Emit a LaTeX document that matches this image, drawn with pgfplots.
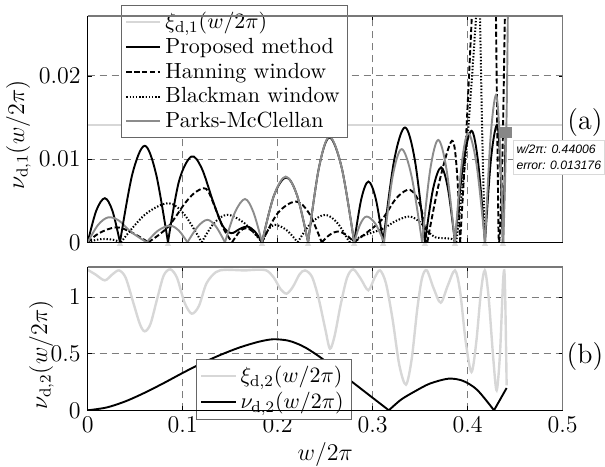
\documentclass[border=0pt]{standalone}
\usepackage{fontspec}
\usepackage{pgfplots}
\pgfplotsset{compat=1.18}
\newfontfamily\tipfont{Liberation Sans}
\definecolor{lgray}{RGB}{215,215,215}
\definecolor{mgray}{RGB}{140,140,140}
\definecolor{tgray}{RGB}{220,220,220}
\definecolor{gridc}{RGB}{125,125,125}
\definecolor{dtgray}{RGB}{135,135,135}
\definecolor{framec}{RGB}{120,120,120}
\pgfplotsset{
  myaxis/.style={
    scale only axis, width=237.5pt, xmin=0, xmax=0.5,
    xtick={0,0.1,0.2,0.3,0.4,0.5},
    grid=major, grid style={gridc, line width=0.45pt, dash pattern=on 3.5pt off 2.5pt},
    axis line style={draw=none},
    tick align=inside, major tick length=2pt, tick style={black, line width=0.4pt},
    tick label style={font=\fontsize{12}{14}\selectfont},
    label style={font=\fontsize{12}{14}\selectfont},
    legend cell align=left,
    scaled y ticks=false, scaled x ticks=false,
  },
  prop/.style={black, line width=0.95pt, smooth, tension=0.55},
  hann/.style={black, line width=0.95pt, dash pattern=on 2.6pt off 1.3pt, smooth, tension=0.55},
  bman/.style={black, line width=1pt, dash pattern=on 0.7pt off 0.9pt, smooth, tension=0.55},
  parks/.style={mgray, line width=0.95pt, smooth, tension=0.55},
}
\begin{document}
\begin{tikzpicture}
% zero markers just below the upper axis
\begin{axis}[scale only axis, width=237.5pt, height=5pt, at={(0,84pt)}, anchor=north west,
  xmin=0, xmax=0.5, ymin=-10, ymax=0, hide axis, clip marker paths=true]
\addplot[only marks, mark=triangle*, mark size=1.45pt, color=tgray] coordinates {
(0.034,-1.8) (0.0845,-1.8) (0.1835,-1.8) (0.232,-1.8) (0.2805,-1.8) (0.311,-1.8)
(0.355,-1.8) (0.3866,-1.8) (0.4182,-1.8) (0.437,-1.8)};
\end{axis}

\begin{axis}[myaxis, name=top, at={(0,84pt)}, anchor=south west, height=113.15pt,
  ymin=0, ymax=0.0272, ytick={0,0.01,0.02}, yticklabels={$0$,$0.01$,$0.02$},
  xticklabels={},
  legend style={at={(rel axis cs:0.070,1.0486)}, anchor=north west,
    font=\fontsize{10.95}{12}\selectfont, draw=black!60, fill=white,
    inner xsep=2pt, inner ysep=1.5pt, row sep=-0.8pt},
]
\addplot[lgray, line width=1pt] coordinates {(0,0.0141) (0.5,0.0141)};
\addlegendentry{$\xi_{\mathrm{d},1}(w/2\pi)$}
% Proposed method
\addplot[prop] coordinates {(0,0) (0.009,0.0038) (0.018,0.0053) (0.026,0.0038) (0.034,0)};
\addlegendentry{Proposed method}
% Hanning
\addplot[hann] coordinates {(0,0) (0.012,0.0011) (0.03,0.0018) (0.046,0.0012) (0.0638,0)};
\addlegendentry{Hanning window}
% Blackman
\addplot[bman] coordinates {(0,0) (0.009,0.0003) (0.018,0.0004) (0.027,0.0003) (0.035,0)};
\addlegendentry{Blackman window}
% Parks-McClellan
\addplot[parks] coordinates {(0,0) (0.011,0.0021) (0.0217,0.0030) (0.033,0.0026) (0.045,0.0013) (0.062,0)};
\addlegendentry{Parks-McClellan}

% remaining lobes: Proposed method
\addplot[prop, forget plot] coordinates {(0.034,0) (0.047,0.0082) (0.060,0.0116) (0.072,0.0082) (0.0845,0)};
\addplot[prop, forget plot] coordinates {(0.0845,0) (0.096,0.0073) (0.109,0.0103) (0.12,0.0089) (0.132,0.0049) (0.142,0.0020) (0.151,0.0011) (0.160,0.0016) (0.168,0.0019) (0.176,0.0013) (0.1835,0)};
\addplot[prop, forget plot] coordinates {(0.1835,0) (0.196,0.0056) (0.209,0.0078) (0.2205,0.0056) (0.232,0)};
\addplot[prop, forget plot] coordinates {(0.232,0) (0.2433,0.0089) (0.2545,0.0126) (0.2675,0.0089) (0.2805,0)};
\addplot[prop, forget plot] coordinates {(0.2805,0) (0.288,0.0052) (0.2955,0.0073) (0.3033,0.0052) (0.311,0)};
\addplot[prop, forget plot] coordinates {(0.311,0) (0.3225,0.0098) (0.334,0.0138) (0.3445,0.0098) (0.355,0)};
\addplot[prop, forget plot] coordinates {(0.355,0) (0.3635,0.0064) (0.372,0.0090) (0.3793,0.0064) (0.3866,0)};
\addplot[prop, forget plot] coordinates {(0.3866,0) (0.3953,0.0095) (0.404,0.0134) (0.4111,0.0095) (0.4182,0)};
\addplot[prop, forget plot] coordinates {(0.4182,0) (0.4245,0.0100) (0.4308,0.0141) (0.4341,0.0100) (0.437,0)};
\addplot[prop, forget plot] coordinates {(0.437,0) (0.4385,0.006) (0.44006,0.013176)};

% Hanning
\addplot[hann, forget plot] coordinates {(0.0638,0) (0.075,0.0009) (0.085,0.0019) (0.094,0.0033) (0.1024,0.0047) (0.112,0.0059) (0.122,0.0065) (0.127,0.0061) (0.133,0.0045) (0.1427,0.0017) (0.152,0)};
\addplot[hann, forget plot] coordinates {(0.152,0) (0.16,0.0013) (0.167,0.0017) (0.175,0.0012) (0.1835,0)};
\addplot[hann, forget plot] coordinates {(0.1835,0) (0.20,0.0035) (0.219,0.0049) (0.233,0.0035) (0.2463,0)};
\addplot[hann, forget plot] coordinates {(0.2463,0) (0.2547,0.0009) (0.263,0.0013) (0.272,0.0009) (0.2805,0)};
\addplot[hann, forget plot] coordinates {(0.2805,0) (0.293,0.0011) (0.3095,0.0027) (0.3235,0.0051) (0.333,0.0061) (0.3393,0.0063) (0.346,0.0055) (0.3516,0.0038) (0.3575,0)};
\addplot[hann, forget plot] coordinates {(0.3575,0) (0.37,0.0072) (0.3835,0.0122) (0.389,0.0080) (0.392,0)};
\addplot[hann, forget plot] coordinates {(0.392,0) (0.398,0.012) (0.4055,0.03)};
\addplot[hann, forget plot] coordinates {(0.4295,0.03) (0.4315,0.01) (0.433,0) (0.4365,0.01) (0.4395,0.03)};

% Blackman
\addplot[bman, forget plot] coordinates {(0.035,0) (0.06,0.0033) (0.0849,0.0047) (0.102,0.0033) (0.12,0)};
\addplot[bman, forget plot] coordinates {(0.12,0) (0.133,0.0023) (0.147,0.0033) (0.165,0.0023) (0.1835,0)};
\addplot[bman, forget plot] coordinates {(0.1835,0) (0.19,0.0015) (0.197,0.0021) (0.209,0.0015) (0.221,0)};
\addplot[bman, forget plot] coordinates {(0.221,0) (0.235,0.0023) (0.25,0.0033) (0.263,0.0023) (0.2755,0)};
\addplot[bman, forget plot] coordinates {(0.2755,0) (0.29,0.0008) (0.31,0.0016) (0.325,0.0026) (0.339,0.0031) (0.35,0.0024) (0.358,0.0013) (0.366,0.0006) (0.375,0.0005) (0.383,0.0004) (0.388,0)};
\addplot[bman, forget plot] coordinates {(0.388,0) (0.40,0.013) (0.4105,0.03)};
\addplot[bman, forget plot] coordinates {(0.4125,0.03) (0.4155,0.012) (0.4182,0)};

% Parks-McClellan
\addplot[parks, forget plot] coordinates {(0.062,0) (0.074,0.0014) (0.0866,0.0020) (0.096,0.0014) (0.105,0)};
\addplot[parks, forget plot] coordinates {(0.105,0) (0.116,0.0019) (0.126,0.0027) (0.135,0.0019) (0.1445,0)};
\addplot[parks, forget plot] coordinates {(0.1445,0) (0.155,0.0036) (0.1656,0.0052) (0.1745,0.0036) (0.1835,0)};
\addplot[parks, forget plot] coordinates {(0.1835,0) (0.196,0.0056) (0.2085,0.0079) (0.2205,0.0056) (0.232,0)};
\addplot[parks, forget plot] coordinates {(0.232,0) (0.2433,0.0089) (0.2545,0.0127) (0.2675,0.0089) (0.2805,0)};
\addplot[parks, forget plot] coordinates {(0.2805,0) (0.287,0.0022) (0.2937,0.0031) (0.303,0.0022) (0.312,0)};
\addplot[parks, forget plot] coordinates {(0.312,0) (0.321,0.0079) (0.3305,0.0112) (0.341,0.0079) (0.352,0)};
\addplot[parks, forget plot] coordinates {(0.352,0) (0.3605,0.0087) (0.369,0.0123) (0.3778,0.0087) (0.3866,0)};
\addplot[parks, forget plot] coordinates {(0.3866,0) (0.3936,0.0093) (0.4006,0.0131) (0.4094,0.0093) (0.4182,0)};
\addplot[parks, forget plot] coordinates {(0.4182,0) (0.424,0.0125) (0.4298,0.0177) (0.4337,0.0125) (0.4375,0)};
\addplot[parks, forget plot] coordinates {(0.4375,0) (0.4395,0.008) (0.4412,0.017) (0.4425,0.03)};

\addplot[only marks, mark=square*, mark size=2.6pt, color=dtgray, forget plot] coordinates {(0.44006,0.013176)};
\end{axis}

\begin{axis}[myaxis, name=bot, at={(0,0)}, anchor=south west, height=71.65pt,
  ymin=0, ymax=1.265, ytick={0,0.5,1}, yticklabels={$0$,$0.5$,$1$},
  xticklabels={$0$,$0.1$,$0.2$,$0.3$,$0.4$,$0.5$},
  xlabel={$w/2\pi$}, xlabel style={at={(rel axis cs:0.5,-0.305)}, anchor=center},
  legend style={at={(rel axis cs:0.2274,0.36)}, anchor=north west,
    font=\fontsize{10.95}{13}\selectfont, draw=black!60, fill=white,
    inner xsep=2pt, inner ysep=1.5pt, row sep=-0.5pt},
]
\addplot[lgray, line width=1.2pt, smooth, tension=0.5] coordinates {
(0,1.24) (0.008,1.2) (0.018,1.147) (0.026,1.2) (0.033,1.235) (0.040,1.17)
(0.048,0.95) (0.055,0.76) (0.060,0.697) (0.066,0.76) (0.073,0.98) (0.080,1.19)
(0.087,1.244) (0.094,1.17) (0.102,0.95) (0.1095,0.853) (0.117,0.92) (0.125,1.12)
(0.135,1.22) (0.145,1.24) (0.165,1.235) (0.175,1.24) (0.188,1.235) (0.196,1.17)
(0.203,1.07) (0.2095,1.03) (0.216,1.09) (0.223,1.2) (0.2287,1.235) (0.236,1.18)
(0.243,0.99) (0.25,0.72) (0.255,0.544) (0.26,0.66) (0.266,0.92) (0.273,1.17)
(0.2796,1.244) (0.2875,1.16) (0.2954,1.06) (0.302,1.17) (0.3077,1.235) (0.314,1.12)
(0.321,0.8) (0.328,0.4) (0.335,0.226) (0.341,0.45) (0.347,0.9) (0.352,1.17)
(0.357,1.235) (0.364,1.08) (0.3716,0.95) (0.379,1.1) (0.3866,1.235) (0.392,1.05)
(0.398,0.6) (0.404,0.338) (0.409,0.6) (0.414,1.05) (0.418,1.235) (0.422,1.0)
(0.427,0.45) (0.4305,0.176) (0.434,0.5) (0.437,1.1) (0.4385,1.235) (0.4395,1.0)
(0.441,0.22)};
\addlegendentry{$\xi_{\mathrm{d},2}(w/2\pi)$}
\addplot[black, line width=0.95pt, smooth, tension=0.5] coordinates {
(0,0) (0.02,0.025) (0.04,0.08) (0.06,0.155) (0.08,0.24) (0.1,0.33)
(0.12,0.415) (0.14,0.49) (0.16,0.555) (0.18,0.605) (0.195,0.627) (0.21,0.617)
(0.22,0.59) (0.23,0.55) (0.2445,0.47) (0.26,0.37) (0.28,0.24) (0.30,0.11) (0.317,0)};
\addlegendentry{$\nu_{\mathrm{d},2}(w/2\pi)$}
\addplot[black, line width=0.95pt, smooth, tension=0.5, forget plot] coordinates {
(0.317,0) (0.33,0.095) (0.345,0.17) (0.36,0.235) (0.3796,0.279) (0.395,0.26) (0.41,0.18) (0.4277,0)};
\addplot[black, line width=0.95pt, forget plot] coordinates {(0.4277,0) (0.441,0.197)};
\end{axis}

% axis frames: left/bottom black, top/right grey
\draw[framec, line width=0.6pt] (0,197.15pt) -- (237.5pt,197.15pt) -- (237.5pt,84pt);
\draw[black, line width=0.6pt] (0,197.15pt) -- (0,84pt) -- (237.5pt,84pt);
\draw[framec, line width=0.6pt] (0,71.65pt) -- (237.5pt,71.65pt) -- (237.5pt,0pt);
\draw[black, line width=0.6pt] (0,71.65pt) -- (0,0) -- (237.5pt,0);

\node[rotate=90, font=\fontsize{12}{14}\selectfont] at (-34.6pt,137.65pt) {$\nu_{\mathrm{d},1}(w/2\pi)$};
\node[rotate=90, font=\fontsize{12}{14}\selectfont] at (-23.1pt,27.65pt) {$\nu_{\mathrm{d},2}(w/2\pi)$};
\node[font=\fontsize{14}{16}\selectfont] at (248.65pt,144pt) {(a)};
\node[font=\fontsize{14}{16}\selectfont] at (248.65pt,27pt) {(b)};
\node[anchor=north west, fill=white, draw=black!15, inner xsep=1.8pt, inner ysep=2.2pt, align=left,
  font=\tipfont\itshape\fontsize{6.1}{8}\selectfont] at (212.4pt,135.15pt)
  {w/2π: 0.44006\\error: 0.013176};

\pgfresetboundingbox
\useasboundingbox (-43.85pt,-27.85pt) rectangle (258.65pt,205.15pt);
\end{tikzpicture}
\end{document}
